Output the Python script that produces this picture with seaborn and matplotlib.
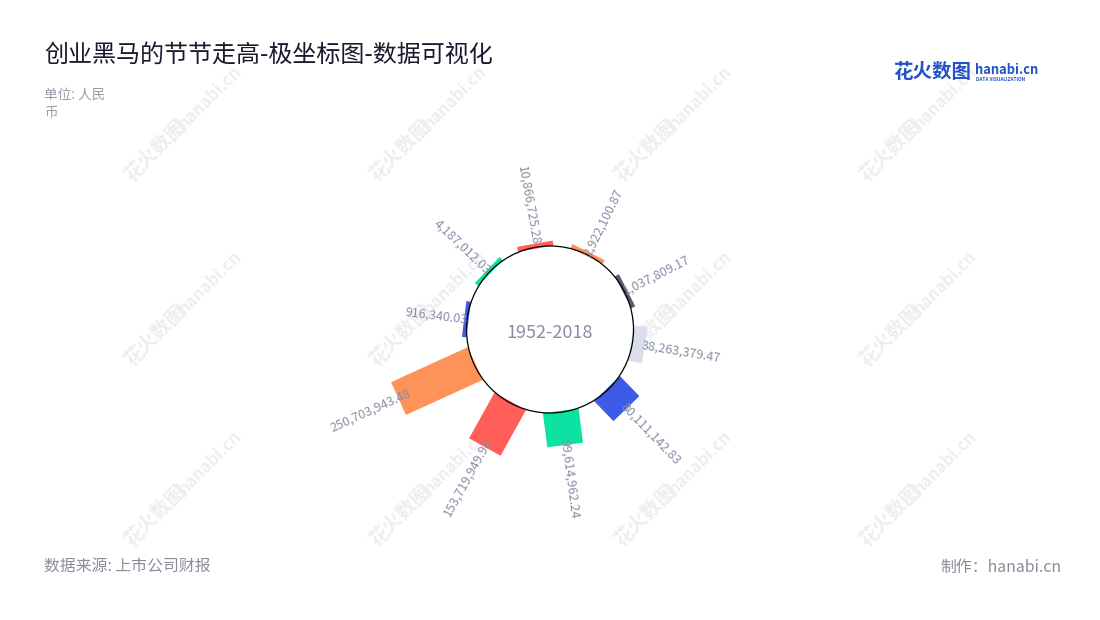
import matplotlib
matplotlib.use('Agg')

import matplotlib.pyplot as plt
import matplotlib.transforms as mtransforms
from matplotlib.patches import Circle
import seaborn as sns

# ---------------------------------------------------------------------------
# data: one value per segment, drawn clockwise starting from the lower left
# ---------------------------------------------------------------------------
SEGMENTS = ['s1', 's2', 's3', 's4', 's5', 's6', 's7', 's8', 's9', 's10']
VALUES = [916340.03, 4187012.03, 10866725.28, 2922100.87, 1037809.17,
          38263379.47, 80111142.83, 99614962.24, 153719949.94, 250703943.48]
CENTER_LABEL = '1952-2018'

TITLE = '创业黑马的节节走高-极坐标图-数据可视化'
UNIT = '单位: 人民\n币'
SOURCE = '数据来源: 上市公司财报'
CREDIT = '制作：hanabi.cn'

# hanabi palette, cycled over the segments
PALETTE = ['#3D5AE8', '#0CE3A2', '#FF5F58', '#FF9357', '#5C5C6D', '#D9DEEA']
TEXT_GREY = '#8C8CA6'
TITLE_COLOR = '#1A1A2E'
LOGO_BLUE = '#2352C9'
MARK_GREY = '#EEEEF1'

# layout in pixel units (figure is 1100 x 620)
W, H = 1100, 620
CX, CY = 550, H - 329.5
R0 = 83.5           # radius of the inner circle
MAX_LEN = 83        # length of the longest bar
MIN_LEN = 3         # thin bars stay visible
BAR_W = 36
START_ANGLE = 277   # degrees clockwise from 12 o'clock
STEP = 36.5

sns.set_theme(style='white')
plt.rcParams['font.family'] = ['Noto Sans CJK SC', 'DejaVu Sans']

fig = plt.figure(figsize=(11, 6.2), dpi=100)
ax = fig.add_axes([0, 0, 1, 1])
ax.set_xlim(0, W)
ax.set_ylim(0, H)
ax.set_aspect('equal')
ax.axis('off')

# faint watermarks
for wx in (135, 380, 625, 870):
    for wy in (185, 370, 550):
        ax.text(wx, H - wy, '花火数图', rotation=45, fontsize=14,
                fontweight='bold', color=MARK_GREY, ha='left', va='bottom',
                rotation_mode='anchor', zorder=0)
        ax.text(wx + 52, H - wy + 52, 'hanabi.cn', rotation=45, fontsize=12,
                fontweight='bold', color=MARK_GREY, ha='left', va='bottom',
                rotation_mode='anchor', zorder=0)

# white disc under the bars, outline drawn over them
ax.add_patch(Circle((CX, CY), R0, facecolor='white', edgecolor='none',
                    zorder=1))
ax.add_patch(Circle((CX, CY), R0, facecolor='none', edgecolor='black',
                    linewidth=0.9, zorder=3))

vmax = max(VALUES)
for i, v in enumerate(VALUES):
    theta = (START_ANGLE + STEP * i) % 360
    rot = mtransforms.Affine2D().rotate_deg(-theta).translate(CX, CY) + ax.transData
    length = v / vmax * MAX_LEN
    ax.bar(0, max(length, MIN_LEN) + 1.5, width=BAR_W, bottom=R0 - 1.5,
           color=PALETTE[i % len(PALETTE)], linewidth=0, transform=rot,
           zorder=2)

    label = f'{v:,.2f}'
    if theta < 180:
        ha, angle = 'left', 90 - theta
    else:
        ha, angle = 'right', 270 - theta
    ax.text(0, R0 + 0.85 * length - 1, label, transform=rot, rotation=angle,
            rotation_mode='anchor', ha=ha, va='center', fontsize=9.0,
            color=TEXT_GREY, zorder=4)

ax.text(CX, CY - 3, CENTER_LABEL, ha='center', va='center', fontsize=13,
        color=TEXT_GREY, zorder=4)

# titles and notes
fig.text(44 / W, 1 - 55 / H, TITLE, fontsize=17.3, color=TITLE_COLOR,
         ha='left', va='center')
fig.text(44 / W, 1 - 88 / H, UNIT, fontsize=9.8, color='#9A9AA8',
         ha='left', va='top', linespacing=1.35)
fig.text(44 / W, 1 - 567 / H, SOURCE, fontsize=11.4, color='#8C8C9A',
         ha='left', va='center')
fig.text(1061 / W, 1 - 567 / H, CREDIT, fontsize=11.4, color='#8C8C9A',
         ha='right', va='center')

# logo
fig.text(893 / W, 1 - 73 / H, '花火数图', fontsize=14, fontweight='bold',
         color=LOGO_BLUE, ha='left', va='center')
fig.text(975 / W, 1 - 70 / H, 'hanabi.cn', fontsize=9.3, fontweight='bold',
         color=LOGO_BLUE, ha='left', va='center')
fig.text(976 / W, 1 - 79.5 / H, 'DATA VISUALIZATION', fontsize=3.4,
         fontweight='bold', color=LOGO_BLUE, ha='left', va='center')

fig.savefig('out.png', dpi=100, facecolor='white')
